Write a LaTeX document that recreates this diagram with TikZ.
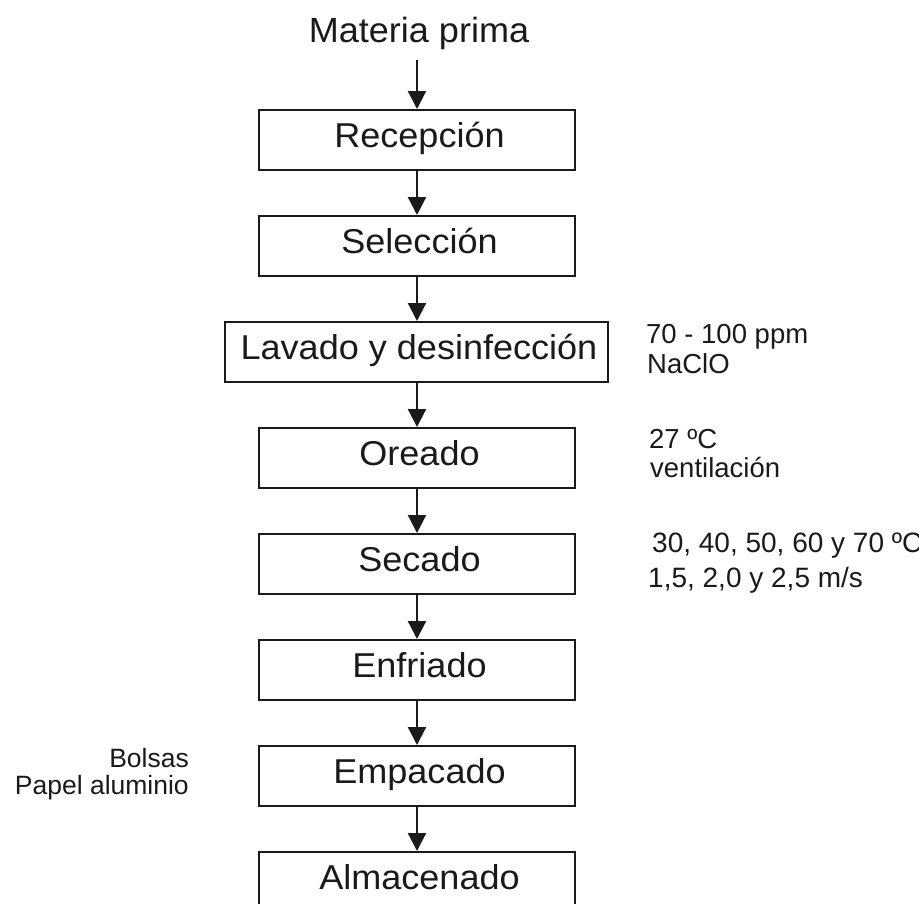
\documentclass[tikz,border=0pt]{standalone}
\usepackage{fontspec}
\setmainfont{Liberation Sans}
\newfontfamily\boxfont[FakeStretch=1.045]{Liberation Sans}
\newfontfamily\topfont[FakeStretch=1.03]{Liberation Sans}
\usetikzlibrary{arrows.meta}
\definecolor{ink}{HTML}{1A1A1A}
\tikzset{
  stepbox/.style={draw=ink, line width=1.5pt, fill=white, inner sep=0pt,
    minimum width=316pt, minimum height=60pt, text height=37.5pt, text depth=22.5pt,
    font=\boxfont\fontsize{34.5}{40}\selectfont, text=ink,
    execute at begin node=\hspace*{5pt}},
  sidetext/.style={inner sep=0pt, font=\fontsize{27.5}{32}\selectfont, text=ink},
  flow/.style={draw=ink, line width=2.2pt, -{Triangle[width=18pt,length=18pt]}},
}
\begin{document}
\begin{tikzpicture}[x=1pt,y=-1pt]
\clip (0,0) rectangle (919,903);
\fill[white] (0,0) rectangle (919,903);

\node[inner sep=0pt, anchor=base, font=\topfont\fontsize{35}{40}\selectfont, text=ink] (mp) at (419,42) {Materia prima};
\coordinate (mpend) at (417,60);

\node[stepbox, anchor=north] (rec) at (417,109) {Recepción};
\node[stepbox, anchor=north] (sel) at (417,215) {Selección};
\node[stepbox, anchor=north, minimum width=383pt] (lav) at (416.5,321) {Lavado y desinfección};
\node[stepbox, anchor=north] (ore) at (417,427) {Oreado};
\node[stepbox, anchor=north] (sec) at (417,533) {Secado};
\node[stepbox, anchor=north] (enf) at (417,639) {Enfriado};
\node[stepbox, anchor=north] (emp) at (417,745) {Empacado};
\node[stepbox, anchor=north] (alm) at (417,851) {Almacenado};

\draw[flow] (mpend) -- (rec.north);
\draw[flow] (rec.south) -- (sel.north);
\draw[flow] (sel.south) -- (lav.north -| sel.south);
\draw[flow] (lav.south -| sel.south) -- (ore.north);
\draw[flow] (ore.south) -- (sec.north);
\draw[flow] (sec.south) -- (enf.north);
\draw[flow] (enf.south) -- (emp.north);
\draw[flow] (emp.south) -- (alm.north);

\node[sidetext, anchor=base west] (t1a) at (646,343) {70 - 100 ppm};
\node[sidetext, anchor=base west] (t1b) at (647,373) {NaClO};
\node[sidetext, anchor=base west] (t2a) at (649,448) {27 ºC};
\node[sidetext, anchor=base west] (t2b) at (650,477) {ventilación};
\node[sidetext, anchor=base west, font=\fontsize{28}{32}\selectfont] (t3a) at (652,552) {30, 40, 50, 60 y 70 ºC};
\node[sidetext, anchor=base west, font=\fontsize{28}{32}\selectfont] (t3b) at (648,587) {1,5, 2,0 y 2,5 m/s};
\node[sidetext, anchor=base east, font=\fontsize{26.5}{30}\selectfont] (t4a) at (189,767) {Bolsas};
\node[sidetext, anchor=base east, font=\fontsize{26.5}{30}\selectfont] (t4b) at (189,794) {Papel aluminio};
\end{tikzpicture}
\end{document}
